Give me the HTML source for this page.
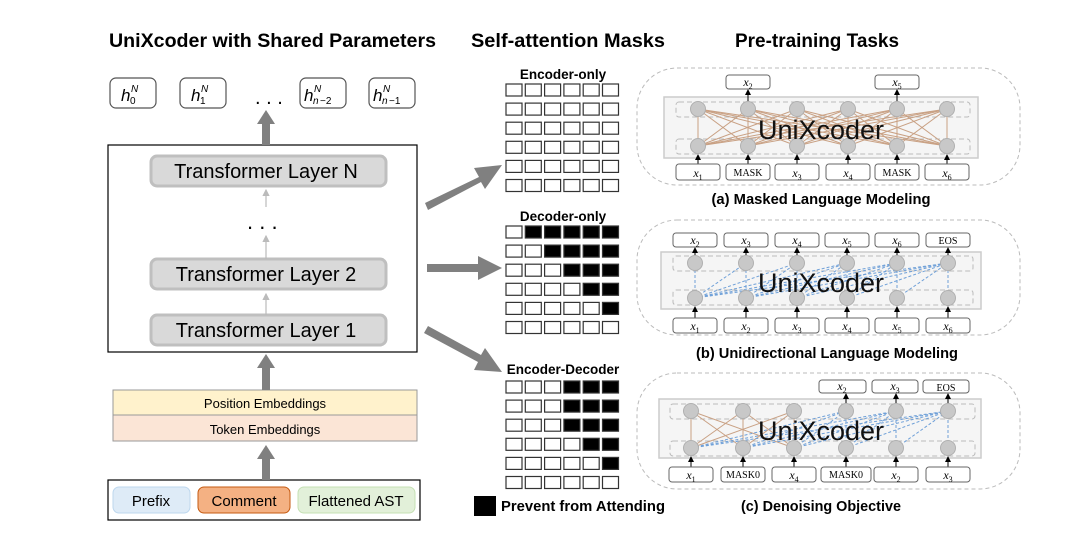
<!DOCTYPE html>
<html><head><meta charset="utf-8"><style>
body{margin:0;background:#fff;width:1071px;height:538px;overflow:hidden}
svg{display:block}
text{font-family:"Liberation Sans",sans-serif}
.t{font-weight:bold;font-size:19.5px}
.m{font-family:"Liberation Serif",serif;font-style:italic;font-size:12px}
.s{font-family:"Liberation Serif",serif;font-size:10px}
</style></head><body>
<svg id="sv" width="1071" height="538" viewBox="0 0 1071 538" xmlns="http://www.w3.org/2000/svg">
<defs>
<marker id="ah" markerWidth="6" markerHeight="6" refX="5" refY="3" orient="auto"><path d="M0,0 L6,3 L0,6z" fill="#000"/></marker>
<marker id="ahg" markerWidth="6" markerHeight="6" refX="5" refY="3" orient="auto"><path d="M0,0 L6,3 L0,6z" fill="#bbb"/></marker>
</defs>
<text x="109" y="47" class="t" textLength="327" lengthAdjust="spacingAndGlyphs">UniXcoder with Shared Parameters</text>
<text x="471" y="47" class="t" textLength="194" lengthAdjust="spacingAndGlyphs">Self-attention Masks</text>
<text x="735" y="47" class="t" textLength="164" lengthAdjust="spacingAndGlyphs">Pre-training Tasks</text>

<!-- h boxes -->
<g fill="#fff" stroke="#555" stroke-width="1.2">
<rect x="110" y="78" width="46" height="30" rx="6"/><rect x="180" y="78" width="46" height="30" rx="6"/>
<rect x="300" y="78" width="46" height="30" rx="6"/><rect x="369" y="78" width="46" height="30" rx="6"/>
</g>
<g font-family="Liberation Serif,serif" font-style="italic">
<text x="121" y="101" font-size="17">h</text><text x="130" y="104" font-size="10" font-style="normal">0</text><text x="131" y="92" font-size="10">N</text>
<text x="191" y="101" font-size="17">h</text><text x="200" y="104" font-size="10" font-style="normal">1</text><text x="201" y="92" font-size="10">N</text>
<text x="304" y="101" font-size="17">h</text><text x="313" y="104" font-size="10">n</text><text x="320" y="104" font-size="10" font-style="normal">−2</text><text x="314" y="92" font-size="10">N</text>
<text x="373" y="101" font-size="17">h</text><text x="382" y="104" font-size="10">n</text><text x="389" y="104" font-size="10" font-style="normal">−1</text><text x="383" y="92" font-size="10">N</text>
</g>
<text x="255" y="104" font-size="20">. . .</text>

<!-- main box -->
<rect x="108" y="145" width="309" height="207" fill="#fff" stroke="#000" stroke-width="1.2"/>
<g fill="#d9d9d9" stroke="#bfbfbf" stroke-width="3">
<rect x="151" y="156" width="235" height="30" rx="6"/>
<rect x="151" y="259" width="235" height="30" rx="6"/>
<rect x="151" y="315" width="235" height="30" rx="6"/>
</g>
<g font-size="20" text-anchor="middle">
<text x="266" y="178">Transformer Layer N</text>
<text x="266" y="281">Transformer Layer 2</text>
<text x="266" y="337">Transformer Layer 1</text>
</g>
<text x="247" y="229" font-size="22">. . .</text>
<g stroke="#bbb" stroke-width="1.2" marker-end="url(#ahg)">
<line x1="266" y1="315" x2="266" y2="294"/><line x1="266" y1="259" x2="266" y2="236"/><line x1="266" y1="207" x2="266" y2="190"/>
</g>

<!-- embeddings -->
<rect x="113" y="390" width="304" height="25" fill="#fff2cc" stroke="#999"/>
<rect x="113" y="415" width="304" height="26" fill="#fbe5d6" stroke="#999"/>
<text x="265" y="408" font-size="13" text-anchor="middle">Position Embeddings</text>
<text x="265" y="434" font-size="13" text-anchor="middle">Token Embeddings</text>

<rect x="108" y="480" width="312" height="40" fill="#fff" stroke="#000" stroke-width="1.2"/>
<rect x="113" y="487" width="77" height="26" rx="6" fill="#deebf7" stroke="#bdd7ee"/>
<rect x="198" y="487" width="92" height="26" rx="6" fill="#f4b183" stroke="#c55a11"/>
<rect x="298" y="487" width="117" height="26" rx="6" fill="#e2f0d9" stroke="#c5e0b4"/>
<g font-size="15" text-anchor="middle"><text x="151" y="506">Prefix</text><text x="244" y="506">Comment</text><text x="356" y="506">Flattened AST</text></g>

<!-- gray up arrows -->
<g fill="#808080">
<rect x="262" y="124" width="8" height="21"/><path d="M257,124 L266,110 L275,124z"/>
<rect x="262" y="368" width="8" height="22"/><path d="M257,368 L266,354 L275,368z"/>
<rect x="262" y="459" width="8" height="21"/><path d="M257,459 L266,445 L275,459z"/>
</g>
<!-- diagonal arrows -->
<g fill="#808080">
<path d="M425,203 L479,177 L474,168 L502,165 L485,189 L481,182 L428,210z"/>
<path d="M427,264 L478,264 L478,256 L502,268 L478,280 L478,272 L427,272z"/>
<path d="M428,326 L481,355 L485,348 L502,372 L474,370 L478,362 L424,333z"/>
</g>

<!-- mask titles -->
<g font-weight="bold" font-size="13.5" text-anchor="middle">
<text x="563" y="79">Encoder-only</text>
<text x="563" y="221">Decoder-only</text>
<text x="563" y="374">Encoder-Decoder</text>
</g>
<g id="grids"></g>
<rect x="474" y="496" width="22" height="20" fill="#000"/>
<text x="501" y="511" font-weight="bold" font-size="14.5" textLength="164" lengthAdjust="spacingAndGlyphs">Prevent from Attending</text>

<!-- panels -->
<g fill="none" stroke="#bbb" stroke-dasharray="4,3">
<rect x="637" y="68" width="383" height="117" rx="40"/>
<rect x="637" y="220" width="383" height="115" rx="40"/>
<rect x="637" y="373" width="383" height="116" rx="40"/>
</g>
<g fill="#f5f5f5" stroke="#ccc" stroke-width="1.5">
<rect x="664" y="97" width="314" height="61"/>
<rect x="661" y="252" width="320" height="57"/>
<rect x="659" y="399" width="322" height="59"/>
</g>
<g fill="none" stroke="#bbb" stroke-dasharray="5,3">
<rect x="676" y="102" width="294" height="15" rx="3"/><rect x="676" y="139" width="294" height="15" rx="3"/>
<rect x="673" y="256" width="300" height="15" rx="3"/><rect x="673" y="290" width="300" height="15" rx="3"/>
<rect x="670" y="404" width="305" height="15" rx="3"/><rect x="670" y="441" width="305" height="15" rx="3"/>
</g>
<g id="net"></g>
<g font-size="27" text-anchor="middle" fill="#111">
<text x="821" y="139">UniXcoder</text>
<text x="821" y="292">UniXcoder</text>
<text x="821" y="440">UniXcoder</text>
</g>

<g fill="#fff" stroke="#666">
<rect x="676" y="164" width="44" height="16" rx="3"/><rect x="726" y="164" width="44" height="16" rx="3"/><rect x="775" y="164" width="44" height="16" rx="3"/><rect x="826" y="164" width="44" height="16" rx="3"/><rect x="875" y="164" width="44" height="16" rx="3"/><rect x="925" y="164" width="44" height="16" rx="3"/>
<rect x="726" y="75" width="44" height="14" rx="3"/><rect x="875" y="75" width="44" height="14" rx="3"/>
<rect x="673" y="318" width="44" height="15" rx="3"/><rect x="724" y="318" width="44" height="15" rx="3"/><rect x="775" y="318" width="44" height="15" rx="3"/><rect x="825" y="318" width="44" height="15" rx="3"/><rect x="875" y="318" width="44" height="15" rx="3"/><rect x="926" y="318" width="44" height="15" rx="3"/>
<rect x="673" y="233" width="44" height="14" rx="3"/><rect x="724" y="233" width="44" height="14" rx="3"/><rect x="775" y="233" width="44" height="14" rx="3"/><rect x="825" y="233" width="44" height="14" rx="3"/><rect x="875" y="233" width="44" height="14" rx="3"/><rect x="926" y="233" width="44" height="14" rx="3"/>
<rect x="669" y="467" width="44" height="15" rx="3"/><rect x="721" y="467" width="44" height="15" rx="3"/><rect x="772" y="467" width="44" height="15" rx="3"/><rect x="821" y="467" width="50" height="15" rx="3"/><rect x="874" y="467" width="44" height="15" rx="3"/><rect x="926" y="467" width="44" height="15" rx="3"/>
<rect x="819" y="380" width="47" height="13" rx="3"/><rect x="872" y="380" width="46" height="13" rx="3"/><rect x="923" y="380" width="46" height="13" rx="3"/>
</g>
<g text-anchor="middle">
<text x="698" y="177" class="m">x<tspan font-size="8" font-style="normal" dy="3">1</tspan></text>
<text x="748" y="176" class="s">MASK</text>
<text x="797" y="177" class="m">x<tspan font-size="8" font-style="normal" dy="3">3</tspan></text>
<text x="848" y="177" class="m">x<tspan font-size="8" font-style="normal" dy="3">4</tspan></text>
<text x="897" y="176" class="s">MASK</text>
<text x="947" y="177" class="m">x<tspan font-size="8" font-style="normal" dy="3">6</tspan></text>
<text x="748" y="86" class="m">x<tspan font-size="8" font-style="normal" dy="3">2</tspan></text>
<text x="897" y="86" class="m">x<tspan font-size="8" font-style="normal" dy="3">5</tspan></text>

<text x="695" y="330" class="m">x<tspan font-size="8" font-style="normal" dy="3">1</tspan></text>
<text x="746" y="330" class="m">x<tspan font-size="8" font-style="normal" dy="3">2</tspan></text>
<text x="797" y="330" class="m">x<tspan font-size="8" font-style="normal" dy="3">3</tspan></text>
<text x="847" y="330" class="m">x<tspan font-size="8" font-style="normal" dy="3">4</tspan></text>
<text x="897" y="330" class="m">x<tspan font-size="8" font-style="normal" dy="3">5</tspan></text>
<text x="948" y="330" class="m">x<tspan font-size="8" font-style="normal" dy="3">6</tspan></text>
<text x="695" y="244" class="m">x<tspan font-size="8" font-style="normal" dy="3">2</tspan></text>
<text x="746" y="244" class="m">x<tspan font-size="8" font-style="normal" dy="3">3</tspan></text>
<text x="797" y="244" class="m">x<tspan font-size="8" font-style="normal" dy="3">4</tspan></text>
<text x="847" y="244" class="m">x<tspan font-size="8" font-style="normal" dy="3">5</tspan></text>
<text x="897" y="244" class="m">x<tspan font-size="8" font-style="normal" dy="3">6</tspan></text>
<text x="948" y="244" class="s">EOS</text>

<text x="691" y="479" class="m">x<tspan font-size="8" font-style="normal" dy="3">1</tspan></text>
<text x="743" y="478" class="s">MASK0</text>
<text x="794" y="479" class="m">x<tspan font-size="8" font-style="normal" dy="3">4</tspan></text>
<text x="846" y="478" class="s">MASK0</text>
<text x="896" y="479" class="m">x<tspan font-size="8" font-style="normal" dy="3">2</tspan></text>
<text x="948" y="479" class="m">x<tspan font-size="8" font-style="normal" dy="3">3</tspan></text>
<text x="842" y="390" class="m">x<tspan font-size="8" font-style="normal" dy="3">2</tspan></text>
<text x="895" y="390" class="m">x<tspan font-size="8" font-style="normal" dy="3">3</tspan></text>
<text x="946" y="391" class="s">EOS</text>
</g>
<g font-weight="bold" font-size="14.5" text-anchor="middle">
<text x="821" y="204" textLength="219" lengthAdjust="spacingAndGlyphs">(a) Masked Language Modeling</text>
<text x="827" y="358" textLength="262" lengthAdjust="spacingAndGlyphs">(b) Unidirectional Language Modeling</text>
<text x="821" y="511" textLength="160" lengthAdjust="spacingAndGlyphs">(c) Denoising Objective</text>
</g>
</svg>
<script>
var NS="http://www.w3.org/2000/svg";
function el(p,t,a){var e=document.createElementNS(NS,t);for(var k in a)e.setAttribute(k,a[k]);p.appendChild(e);return e;}
var g=document.getElementById("grids");
function grid(y0,f){for(var r=0;r<6;r++)for(var c=0;c<6;c++){var b=f(r,c);el(g,"rect",{x:506+c*19.3,y:y0+r*19.1,width:16,height:12,fill:b?"#000":"#fff",stroke:"#333","stroke-width":1.2});}}
grid(84,function(){return false});
grid(226,function(r,c){return c>r});
grid(381,function(r,c){return (r<3&&c>=3)||(r>=3&&c>r)});
var n=document.getElementById("net");
function line(x1,y1,x2,y2,col,dash){var a={x1:x1,y1:y1,x2:x2,y2:y2,stroke:col,"stroke-width":1};if(dash)a["stroke-dasharray"]="3,2";el(n,"line",a);}
function arrow(x,y1,y2){el(n,"line",{x1:x,y1:y1,x2:x,y2:y2,stroke:"#000","stroke-width":1,"marker-end":"url(#ah)"});}
function panel(xs,yt,yb,yin,yout,outs,type){
 var br="#c9a184",bl="#6fa0d8";
 for(var i=0;i<6;i++)for(var j=0;j<6;j++){
  if(type=="a")line(xs[j],yb,xs[i],yt,br);
  else if(type=="b"){if(j<=i)line(xs[j],yb,xs[i],yt,bl,true);}
  else{ if(i<3&&j<3)line(xs[j],yb,xs[i],yt,br); else if(j<=i&&i>=3)line(xs[j],yb,xs[i],yt,bl,true);}
 }
 for(var i=0;i<6;i++){el(n,"circle",{cx:xs[i],cy:yt,r:7.5,fill:"#c8c8c8",stroke:"#b0b0b0"});el(n,"circle",{cx:xs[i],cy:yb,r:7.5,fill:"#c8c8c8",stroke:"#b0b0b0"});arrow(xs[i],yin,yb+9);}
 outs.forEach(function(i){arrow(xs[i],yt-8,yout);});
}
panel([698,748,797,848,897,947],109,146,164,90,[1,4],"a");
panel([695,746,797,847,897,948],263,298,318,248,[0,1,2,3,4,5],"b");
panel([691,743,794,846,896,948],411,448,467,394,[3,4,5],"c");
</script>
</body></html>
